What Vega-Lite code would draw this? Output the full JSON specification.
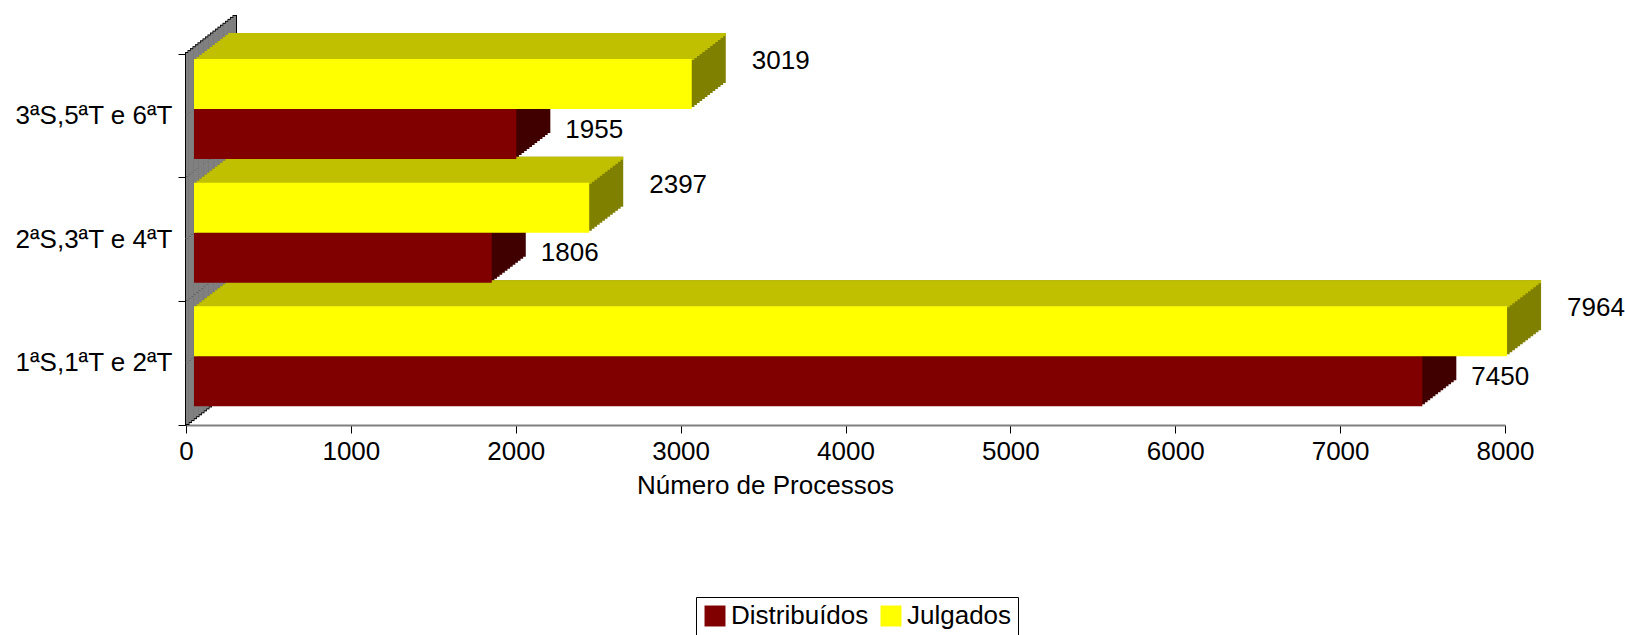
{
  "$schema": "https://vega.github.io/schema/vega-lite/v6.json",
  "autosize": "none",
  "width": 1319,
  "height": 371,
  "padding": {"left": 186, "top": 54, "right": 120, "bottom": 210},
  "background": "white",
  "config": {"view": {"stroke": null}, "font": "Liberation Sans"},
  "data": {"values": [
    {"grupo": "1ªS,1ªT e 2ªT", "serie": "Distribuídos", "valor": 7450},
    {"grupo": "1ªS,1ªT e 2ªT", "serie": "Julgados", "valor": 7964},
    {"grupo": "2ªS,3ªT e 4ªT", "serie": "Distribuídos", "valor": 1806},
    {"grupo": "2ªS,3ªT e 4ªT", "serie": "Julgados", "valor": 2397},
    {"grupo": "3ªS,5ªT e 6ªT", "serie": "Distribuídos", "valor": 1955},
    {"grupo": "3ªS,5ªT e 6ªT", "serie": "Julgados", "valor": 3019}
  ]},
  "encoding": {
    "y": {"field": "grupo", "type": "nominal",
      "scale": {"domain": ["3ªS,5ªT e 6ªT", "2ªS,3ªT e 4ªT", "1ªS,1ªT e 2ªT"], "paddingInner": 0, "paddingOuter": 0},
      "axis": {"title": null, "bandPosition": 1, "tickExtra": true, "domain": false,
        "tickColor": "black", "tickSize": 8, "tickWidth": 1, "labelPadding": 6, "labelFontSize": 26,
        "labelColor": "black", "labelFont": "Liberation Sans", "grid": false}}
  },
  "resolve": {"scale": {"x": "independent", "yOffset": "independent"}},
  "layer": [
    {"mark": {"type": "bar", "color": "black"}, "encoding": {"x": {"datum": 0, "type": "quantitative", "scale": {"domain": [0, 1], "range": [-1, 3.5]}, "axis": null}, "x2": {"datum": 1}, "yOffset": {"field": "serie", "scale": {"domain": ["Julgados", "Distribuídos"], "range": [-1.98, 123.69], "paddingInner": 0, "paddingOuter": 0}}}},
    {"mark": {"type": "bar", "color": "black"}, "encoding": {"x": {"datum": 0, "type": "quantitative", "scale": {"domain": [0, 1], "range": [1.5, 6]}, "axis": null}, "x2": {"datum": 1}, "yOffset": {"field": "serie", "scale": {"domain": ["Julgados", "Distribuídos"], "range": [-3.93, 121.74], "paddingInner": 0, "paddingOuter": 0}}}},
    {"mark": {"type": "bar", "color": "black"}, "encoding": {"x": {"datum": 0, "type": "quantitative", "scale": {"domain": [0, 1], "range": [4, 8.5]}, "axis": null}, "x2": {"datum": 1}, "yOffset": {"field": "serie", "scale": {"domain": ["Julgados", "Distribuídos"], "range": [-5.88, 119.79], "paddingInner": 0, "paddingOuter": 0}}}},
    {"mark": {"type": "bar", "color": "black"}, "encoding": {"x": {"datum": 0, "type": "quantitative", "scale": {"domain": [0, 1], "range": [6.5, 11]}, "axis": null}, "x2": {"datum": 1}, "yOffset": {"field": "serie", "scale": {"domain": ["Julgados", "Distribuídos"], "range": [-7.83, 117.84], "paddingInner": 0, "paddingOuter": 0}}}},
    {"mark": {"type": "bar", "color": "black"}, "encoding": {"x": {"datum": 0, "type": "quantitative", "scale": {"domain": [0, 1], "range": [9, 13.5]}, "axis": null}, "x2": {"datum": 1}, "yOffset": {"field": "serie", "scale": {"domain": ["Julgados", "Distribuídos"], "range": [-9.78, 115.89], "paddingInner": 0, "paddingOuter": 0}}}},
    {"mark": {"type": "bar", "color": "black"}, "encoding": {"x": {"datum": 0, "type": "quantitative", "scale": {"domain": [0, 1], "range": [11.5, 16]}, "axis": null}, "x2": {"datum": 1}, "yOffset": {"field": "serie", "scale": {"domain": ["Julgados", "Distribuídos"], "range": [-11.73, 113.94], "paddingInner": 0, "paddingOuter": 0}}}},
    {"mark": {"type": "bar", "color": "black"}, "encoding": {"x": {"datum": 0, "type": "quantitative", "scale": {"domain": [0, 1], "range": [14, 18.5]}, "axis": null}, "x2": {"datum": 1}, "yOffset": {"field": "serie", "scale": {"domain": ["Julgados", "Distribuídos"], "range": [-13.68, 111.99], "paddingInner": 0, "paddingOuter": 0}}}},
    {"mark": {"type": "bar", "color": "black"}, "encoding": {"x": {"datum": 0, "type": "quantitative", "scale": {"domain": [0, 1], "range": [16.5, 21]}, "axis": null}, "x2": {"datum": 1}, "yOffset": {"field": "serie", "scale": {"domain": ["Julgados", "Distribuídos"], "range": [-15.63, 110.04], "paddingInner": 0, "paddingOuter": 0}}}},
    {"mark": {"type": "bar", "color": "black"}, "encoding": {"x": {"datum": 0, "type": "quantitative", "scale": {"domain": [0, 1], "range": [19, 23.5]}, "axis": null}, "x2": {"datum": 1}, "yOffset": {"field": "serie", "scale": {"domain": ["Julgados", "Distribuídos"], "range": [-17.58, 108.09], "paddingInner": 0, "paddingOuter": 0}}}},
    {"mark": {"type": "bar", "color": "black"}, "encoding": {"x": {"datum": 0, "type": "quantitative", "scale": {"domain": [0, 1], "range": [21.5, 26]}, "axis": null}, "x2": {"datum": 1}, "yOffset": {"field": "serie", "scale": {"domain": ["Julgados", "Distribuídos"], "range": [-19.53, 106.14], "paddingInner": 0, "paddingOuter": 0}}}},
    {"mark": {"type": "bar", "color": "black"}, "encoding": {"x": {"datum": 0, "type": "quantitative", "scale": {"domain": [0, 1], "range": [24, 28.5]}, "axis": null}, "x2": {"datum": 1}, "yOffset": {"field": "serie", "scale": {"domain": ["Julgados", "Distribuídos"], "range": [-21.48, 104.19], "paddingInner": 0, "paddingOuter": 0}}}},
    {"mark": {"type": "bar", "color": "black"}, "encoding": {"x": {"datum": 0, "type": "quantitative", "scale": {"domain": [0, 1], "range": [26.5, 31]}, "axis": null}, "x2": {"datum": 1}, "yOffset": {"field": "serie", "scale": {"domain": ["Julgados", "Distribuídos"], "range": [-23.43, 102.24], "paddingInner": 0, "paddingOuter": 0}}}},
    {"mark": {"type": "bar", "color": "black"}, "encoding": {"x": {"datum": 0, "type": "quantitative", "scale": {"domain": [0, 1], "range": [29, 33.5]}, "axis": null}, "x2": {"datum": 1}, "yOffset": {"field": "serie", "scale": {"domain": ["Julgados", "Distribuídos"], "range": [-25.38, 100.29], "paddingInner": 0, "paddingOuter": 0}}}},
    {"mark": {"type": "bar", "color": "black"}, "encoding": {"x": {"datum": 0, "type": "quantitative", "scale": {"domain": [0, 1], "range": [31.5, 36]}, "axis": null}, "x2": {"datum": 1}, "yOffset": {"field": "serie", "scale": {"domain": ["Julgados", "Distribuídos"], "range": [-27.33, 98.34], "paddingInner": 0, "paddingOuter": 0}}}},
    {"mark": {"type": "bar", "color": "black"}, "encoding": {"x": {"datum": 0, "type": "quantitative", "scale": {"domain": [0, 1], "range": [34, 38.5]}, "axis": null}, "x2": {"datum": 1}, "yOffset": {"field": "serie", "scale": {"domain": ["Julgados", "Distribuídos"], "range": [-29.28, 96.39], "paddingInner": 0, "paddingOuter": 0}}}},
    {"mark": {"type": "bar", "color": "black"}, "encoding": {"x": {"datum": 0, "type": "quantitative", "scale": {"domain": [0, 1], "range": [36.5, 41]}, "axis": null}, "x2": {"datum": 1}, "yOffset": {"field": "serie", "scale": {"domain": ["Julgados", "Distribuídos"], "range": [-31.23, 94.44], "paddingInner": 0, "paddingOuter": 0}}}},
    {"mark": {"type": "bar", "color": "black"}, "encoding": {"x": {"datum": 0, "type": "quantitative", "scale": {"domain": [0, 1], "range": [39, 43.5]}, "axis": null}, "x2": {"datum": 1}, "yOffset": {"field": "serie", "scale": {"domain": ["Julgados", "Distribuídos"], "range": [-33.18, 92.49], "paddingInner": 0, "paddingOuter": 0}}}},
    {"mark": {"type": "bar", "color": "black"}, "encoding": {"x": {"datum": 0, "type": "quantitative", "scale": {"domain": [0, 1], "range": [41.5, 46]}, "axis": null}, "x2": {"datum": 1}, "yOffset": {"field": "serie", "scale": {"domain": ["Julgados", "Distribuídos"], "range": [-35.13, 90.54], "paddingInner": 0, "paddingOuter": 0}}}},
    {"mark": {"type": "bar", "color": "black"}, "encoding": {"x": {"datum": 0, "type": "quantitative", "scale": {"domain": [0, 1], "range": [44, 48.5]}, "axis": null}, "x2": {"datum": 1}, "yOffset": {"field": "serie", "scale": {"domain": ["Julgados", "Distribuídos"], "range": [-37.08, 88.59], "paddingInner": 0, "paddingOuter": 0}}}},
    {"mark": {"type": "bar", "color": "black"}, "encoding": {"x": {"datum": 0, "type": "quantitative", "scale": {"domain": [0, 1], "range": [46.5, 51]}, "axis": null}, "x2": {"datum": 1}, "yOffset": {"field": "serie", "scale": {"domain": ["Julgados", "Distribuídos"], "range": [-39.03, 86.64], "paddingInner": 0, "paddingOuter": 0}}}},

    {"mark": {"type": "bar", "color": "#808080"}, "encoding": {"x": {"datum": 0, "type": "quantitative", "scale": {"domain": [0, 1], "range": [0, 2.8]}, "axis": null}, "x2": {"datum": 1}, "yOffset": {"field": "serie", "scale": {"domain": ["Julgados", "Distribuídos"], "range": [-0.98, 122.69], "paddingInner": 0, "paddingOuter": 0}}}},
    {"mark": {"type": "bar", "color": "#808080"}, "encoding": {"x": {"datum": 0, "type": "quantitative", "scale": {"domain": [0, 1], "range": [2.2, 5.3]}, "axis": null}, "x2": {"datum": 1}, "yOffset": {"field": "serie", "scale": {"domain": ["Julgados", "Distribuídos"], "range": [-2.93, 120.74], "paddingInner": 0, "paddingOuter": 0}}}},
    {"mark": {"type": "bar", "color": "#808080"}, "encoding": {"x": {"datum": 0, "type": "quantitative", "scale": {"domain": [0, 1], "range": [4.7, 7.8]}, "axis": null}, "x2": {"datum": 1}, "yOffset": {"field": "serie", "scale": {"domain": ["Julgados", "Distribuídos"], "range": [-4.88, 118.79], "paddingInner": 0, "paddingOuter": 0}}}},
    {"mark": {"type": "bar", "color": "#808080"}, "encoding": {"x": {"datum": 0, "type": "quantitative", "scale": {"domain": [0, 1], "range": [7.2, 10.3]}, "axis": null}, "x2": {"datum": 1}, "yOffset": {"field": "serie", "scale": {"domain": ["Julgados", "Distribuídos"], "range": [-6.83, 116.84], "paddingInner": 0, "paddingOuter": 0}}}},
    {"mark": {"type": "bar", "color": "#808080"}, "encoding": {"x": {"datum": 0, "type": "quantitative", "scale": {"domain": [0, 1], "range": [9.7, 12.8]}, "axis": null}, "x2": {"datum": 1}, "yOffset": {"field": "serie", "scale": {"domain": ["Julgados", "Distribuídos"], "range": [-8.78, 114.89], "paddingInner": 0, "paddingOuter": 0}}}},
    {"mark": {"type": "bar", "color": "#808080"}, "encoding": {"x": {"datum": 0, "type": "quantitative", "scale": {"domain": [0, 1], "range": [12.2, 15.3]}, "axis": null}, "x2": {"datum": 1}, "yOffset": {"field": "serie", "scale": {"domain": ["Julgados", "Distribuídos"], "range": [-10.73, 112.94], "paddingInner": 0, "paddingOuter": 0}}}},
    {"mark": {"type": "bar", "color": "#808080"}, "encoding": {"x": {"datum": 0, "type": "quantitative", "scale": {"domain": [0, 1], "range": [14.7, 17.8]}, "axis": null}, "x2": {"datum": 1}, "yOffset": {"field": "serie", "scale": {"domain": ["Julgados", "Distribuídos"], "range": [-12.68, 110.99], "paddingInner": 0, "paddingOuter": 0}}}},
    {"mark": {"type": "bar", "color": "#808080"}, "encoding": {"x": {"datum": 0, "type": "quantitative", "scale": {"domain": [0, 1], "range": [17.2, 20.3]}, "axis": null}, "x2": {"datum": 1}, "yOffset": {"field": "serie", "scale": {"domain": ["Julgados", "Distribuídos"], "range": [-14.63, 109.04], "paddingInner": 0, "paddingOuter": 0}}}},
    {"mark": {"type": "bar", "color": "#808080"}, "encoding": {"x": {"datum": 0, "type": "quantitative", "scale": {"domain": [0, 1], "range": [19.7, 22.8]}, "axis": null}, "x2": {"datum": 1}, "yOffset": {"field": "serie", "scale": {"domain": ["Julgados", "Distribuídos"], "range": [-16.58, 107.09], "paddingInner": 0, "paddingOuter": 0}}}},
    {"mark": {"type": "bar", "color": "#808080"}, "encoding": {"x": {"datum": 0, "type": "quantitative", "scale": {"domain": [0, 1], "range": [22.2, 25.3]}, "axis": null}, "x2": {"datum": 1}, "yOffset": {"field": "serie", "scale": {"domain": ["Julgados", "Distribuídos"], "range": [-18.53, 105.14], "paddingInner": 0, "paddingOuter": 0}}}},
    {"mark": {"type": "bar", "color": "#808080"}, "encoding": {"x": {"datum": 0, "type": "quantitative", "scale": {"domain": [0, 1], "range": [24.7, 27.8]}, "axis": null}, "x2": {"datum": 1}, "yOffset": {"field": "serie", "scale": {"domain": ["Julgados", "Distribuídos"], "range": [-20.48, 103.19], "paddingInner": 0, "paddingOuter": 0}}}},
    {"mark": {"type": "bar", "color": "#808080"}, "encoding": {"x": {"datum": 0, "type": "quantitative", "scale": {"domain": [0, 1], "range": [27.2, 30.3]}, "axis": null}, "x2": {"datum": 1}, "yOffset": {"field": "serie", "scale": {"domain": ["Julgados", "Distribuídos"], "range": [-22.43, 101.24], "paddingInner": 0, "paddingOuter": 0}}}},
    {"mark": {"type": "bar", "color": "#808080"}, "encoding": {"x": {"datum": 0, "type": "quantitative", "scale": {"domain": [0, 1], "range": [29.7, 32.8]}, "axis": null}, "x2": {"datum": 1}, "yOffset": {"field": "serie", "scale": {"domain": ["Julgados", "Distribuídos"], "range": [-24.38, 99.29], "paddingInner": 0, "paddingOuter": 0}}}},
    {"mark": {"type": "bar", "color": "#808080"}, "encoding": {"x": {"datum": 0, "type": "quantitative", "scale": {"domain": [0, 1], "range": [32.2, 35.3]}, "axis": null}, "x2": {"datum": 1}, "yOffset": {"field": "serie", "scale": {"domain": ["Julgados", "Distribuídos"], "range": [-26.33, 97.34], "paddingInner": 0, "paddingOuter": 0}}}},
    {"mark": {"type": "bar", "color": "#808080"}, "encoding": {"x": {"datum": 0, "type": "quantitative", "scale": {"domain": [0, 1], "range": [34.7, 37.8]}, "axis": null}, "x2": {"datum": 1}, "yOffset": {"field": "serie", "scale": {"domain": ["Julgados", "Distribuídos"], "range": [-28.28, 95.39], "paddingInner": 0, "paddingOuter": 0}}}},
    {"mark": {"type": "bar", "color": "#808080"}, "encoding": {"x": {"datum": 0, "type": "quantitative", "scale": {"domain": [0, 1], "range": [37.2, 40.3]}, "axis": null}, "x2": {"datum": 1}, "yOffset": {"field": "serie", "scale": {"domain": ["Julgados", "Distribuídos"], "range": [-30.23, 93.44], "paddingInner": 0, "paddingOuter": 0}}}},
    {"mark": {"type": "bar", "color": "#808080"}, "encoding": {"x": {"datum": 0, "type": "quantitative", "scale": {"domain": [0, 1], "range": [39.7, 42.8]}, "axis": null}, "x2": {"datum": 1}, "yOffset": {"field": "serie", "scale": {"domain": ["Julgados", "Distribuídos"], "range": [-32.18, 91.49], "paddingInner": 0, "paddingOuter": 0}}}},
    {"mark": {"type": "bar", "color": "#808080"}, "encoding": {"x": {"datum": 0, "type": "quantitative", "scale": {"domain": [0, 1], "range": [42.2, 45.3]}, "axis": null}, "x2": {"datum": 1}, "yOffset": {"field": "serie", "scale": {"domain": ["Julgados", "Distribuídos"], "range": [-34.13, 89.54], "paddingInner": 0, "paddingOuter": 0}}}},
    {"mark": {"type": "bar", "color": "#808080"}, "encoding": {"x": {"datum": 0, "type": "quantitative", "scale": {"domain": [0, 1], "range": [44.7, 47.8]}, "axis": null}, "x2": {"datum": 1}, "yOffset": {"field": "serie", "scale": {"domain": ["Julgados", "Distribuídos"], "range": [-36.08, 87.59], "paddingInner": 0, "paddingOuter": 0}}}},
    {"mark": {"type": "bar", "color": "#808080"}, "encoding": {"x": {"datum": 0, "type": "quantitative", "scale": {"domain": [0, 1], "range": [47.2, 50]}, "axis": null}, "x2": {"datum": 1}, "yOffset": {"field": "serie", "scale": {"domain": ["Julgados", "Distribuídos"], "range": [-38.03, 85.64], "paddingInner": 0, "paddingOuter": 0}}}},

    {"mark": "bar", "encoding": {"x": {"field": "valor", "type": "quantitative", "stack": null, "scale": {"domain": [0, 8000], "nice": false, "range": [42, 1361]}, "axis": null}, "yOffset": {"field": "serie", "scale": {"domain": ["Julgados", "Distribuídos"], "range": [-21, 79], "paddingInner": 0, "paddingOuter": 0}}, "color": {"condition": {"test": "datum.serie === 'Julgados'", "value": "#808000"}, "value": "#400000"}}},
    {"mark": "bar", "encoding": {"x": {"field": "valor", "type": "quantitative", "stack": null, "scale": {"domain": [0, 8000], "nice": false, "range": [39.38, 1358.38]}, "axis": null}, "yOffset": {"field": "serie", "scale": {"domain": ["Julgados", "Distribuídos"], "range": [-19, 81], "paddingInner": 0, "paddingOuter": 0}}, "color": {"condition": {"test": "datum.serie === 'Julgados'", "value": "#808000"}, "value": "#400000"}}},
    {"mark": "bar", "encoding": {"x": {"field": "valor", "type": "quantitative", "stack": null, "scale": {"domain": [0, 8000], "nice": false, "range": [36.77, 1355.77]}, "axis": null}, "yOffset": {"field": "serie", "scale": {"domain": ["Julgados", "Distribuídos"], "range": [-17, 83], "paddingInner": 0, "paddingOuter": 0}}, "color": {"condition": {"test": "datum.serie === 'Julgados'", "value": "#808000"}, "value": "#400000"}}},
    {"mark": "bar", "encoding": {"x": {"field": "valor", "type": "quantitative", "stack": null, "scale": {"domain": [0, 8000], "nice": false, "range": [34.15, 1353.15]}, "axis": null}, "yOffset": {"field": "serie", "scale": {"domain": ["Julgados", "Distribuídos"], "range": [-15, 85], "paddingInner": 0, "paddingOuter": 0}}, "color": {"condition": {"test": "datum.serie === 'Julgados'", "value": "#808000"}, "value": "#400000"}}},
    {"mark": "bar", "encoding": {"x": {"field": "valor", "type": "quantitative", "stack": null, "scale": {"domain": [0, 8000], "nice": false, "range": [31.54, 1350.54]}, "axis": null}, "yOffset": {"field": "serie", "scale": {"domain": ["Julgados", "Distribuídos"], "range": [-13, 87], "paddingInner": 0, "paddingOuter": 0}}, "color": {"condition": {"test": "datum.serie === 'Julgados'", "value": "#808000"}, "value": "#400000"}}},
    {"mark": "bar", "encoding": {"x": {"field": "valor", "type": "quantitative", "stack": null, "scale": {"domain": [0, 8000], "nice": false, "range": [28.92, 1347.92]}, "axis": null}, "yOffset": {"field": "serie", "scale": {"domain": ["Julgados", "Distribuídos"], "range": [-11, 89], "paddingInner": 0, "paddingOuter": 0}}, "color": {"condition": {"test": "datum.serie === 'Julgados'", "value": "#808000"}, "value": "#400000"}}},
    {"mark": "bar", "encoding": {"x": {"field": "valor", "type": "quantitative", "stack": null, "scale": {"domain": [0, 8000], "nice": false, "range": [26.31, 1345.31]}, "axis": null}, "yOffset": {"field": "serie", "scale": {"domain": ["Julgados", "Distribuídos"], "range": [-9, 91], "paddingInner": 0, "paddingOuter": 0}}, "color": {"condition": {"test": "datum.serie === 'Julgados'", "value": "#808000"}, "value": "#400000"}}},
    {"mark": "bar", "encoding": {"x": {"field": "valor", "type": "quantitative", "stack": null, "scale": {"domain": [0, 8000], "nice": false, "range": [23.69, 1342.69]}, "axis": null}, "yOffset": {"field": "serie", "scale": {"domain": ["Julgados", "Distribuídos"], "range": [-7, 93], "paddingInner": 0, "paddingOuter": 0}}, "color": {"condition": {"test": "datum.serie === 'Julgados'", "value": "#808000"}, "value": "#400000"}}},
    {"mark": "bar", "encoding": {"x": {"field": "valor", "type": "quantitative", "stack": null, "scale": {"domain": [0, 8000], "nice": false, "range": [21.08, 1340.08]}, "axis": null}, "yOffset": {"field": "serie", "scale": {"domain": ["Julgados", "Distribuídos"], "range": [-5, 95], "paddingInner": 0, "paddingOuter": 0}}, "color": {"condition": {"test": "datum.serie === 'Julgados'", "value": "#808000"}, "value": "#400000"}}},
    {"mark": "bar", "encoding": {"x": {"field": "valor", "type": "quantitative", "stack": null, "scale": {"domain": [0, 8000], "nice": false, "range": [18.46, 1337.46]}, "axis": null}, "yOffset": {"field": "serie", "scale": {"domain": ["Julgados", "Distribuídos"], "range": [-3, 97], "paddingInner": 0, "paddingOuter": 0}}, "color": {"condition": {"test": "datum.serie === 'Julgados'", "value": "#808000"}, "value": "#400000"}}},
    {"mark": "bar", "encoding": {"x": {"field": "valor", "type": "quantitative", "stack": null, "scale": {"domain": [0, 8000], "nice": false, "range": [15.85, 1334.85]}, "axis": null}, "yOffset": {"field": "serie", "scale": {"domain": ["Julgados", "Distribuídos"], "range": [-1, 99], "paddingInner": 0, "paddingOuter": 0}}, "color": {"condition": {"test": "datum.serie === 'Julgados'", "value": "#808000"}, "value": "#400000"}}},
    {"mark": "bar", "encoding": {"x": {"field": "valor", "type": "quantitative", "stack": null, "scale": {"domain": [0, 8000], "nice": false, "range": [13.23, 1332.23]}, "axis": null}, "yOffset": {"field": "serie", "scale": {"domain": ["Julgados", "Distribuídos"], "range": [1, 101], "paddingInner": 0, "paddingOuter": 0}}, "color": {"condition": {"test": "datum.serie === 'Julgados'", "value": "#808000"}, "value": "#400000"}}},
    {"mark": "bar", "encoding": {"x": {"field": "valor", "type": "quantitative", "stack": null, "scale": {"domain": [0, 8000], "nice": false, "range": [10.62, 1329.62]}, "axis": null}, "yOffset": {"field": "serie", "scale": {"domain": ["Julgados", "Distribuídos"], "range": [3, 103], "paddingInner": 0, "paddingOuter": 0}}, "color": {"condition": {"test": "datum.serie === 'Julgados'", "value": "#808000"}, "value": "#400000"}}},

    {"transform": [{"filter": "datum.serie === 'Julgados'"}], "mark": {"type": "bar", "color": "#C0C000"}, "encoding": {"x": {"field": "valor", "type": "quantitative", "stack": null, "scale": {"domain": [0, 8000], "nice": false, "range": [42, 1361]}, "axis": null}, "yOffset": {"field": "serie", "scale": {"domain": ["Julgados", "Distribuídos"], "range": [-21, -15], "paddingInner": 0, "paddingOuter": 0}}}},
    {"transform": [{"filter": "datum.serie === 'Julgados'"}], "mark": {"type": "bar", "color": "#C0C000"}, "encoding": {"x": {"field": "valor", "type": "quantitative", "stack": null, "scale": {"domain": [0, 8000], "nice": false, "range": [39.38, 1358.38]}, "axis": null}, "yOffset": {"field": "serie", "scale": {"domain": ["Julgados", "Distribuídos"], "range": [-19, -13], "paddingInner": 0, "paddingOuter": 0}}}},
    {"transform": [{"filter": "datum.serie === 'Julgados'"}], "mark": {"type": "bar", "color": "#C0C000"}, "encoding": {"x": {"field": "valor", "type": "quantitative", "stack": null, "scale": {"domain": [0, 8000], "nice": false, "range": [36.77, 1355.77]}, "axis": null}, "yOffset": {"field": "serie", "scale": {"domain": ["Julgados", "Distribuídos"], "range": [-17, -11], "paddingInner": 0, "paddingOuter": 0}}}},
    {"transform": [{"filter": "datum.serie === 'Julgados'"}], "mark": {"type": "bar", "color": "#C0C000"}, "encoding": {"x": {"field": "valor", "type": "quantitative", "stack": null, "scale": {"domain": [0, 8000], "nice": false, "range": [34.15, 1353.15]}, "axis": null}, "yOffset": {"field": "serie", "scale": {"domain": ["Julgados", "Distribuídos"], "range": [-15, -9], "paddingInner": 0, "paddingOuter": 0}}}},
    {"transform": [{"filter": "datum.serie === 'Julgados'"}], "mark": {"type": "bar", "color": "#C0C000"}, "encoding": {"x": {"field": "valor", "type": "quantitative", "stack": null, "scale": {"domain": [0, 8000], "nice": false, "range": [31.54, 1350.54]}, "axis": null}, "yOffset": {"field": "serie", "scale": {"domain": ["Julgados", "Distribuídos"], "range": [-13, -7], "paddingInner": 0, "paddingOuter": 0}}}},
    {"transform": [{"filter": "datum.serie === 'Julgados'"}], "mark": {"type": "bar", "color": "#C0C000"}, "encoding": {"x": {"field": "valor", "type": "quantitative", "stack": null, "scale": {"domain": [0, 8000], "nice": false, "range": [28.92, 1347.92]}, "axis": null}, "yOffset": {"field": "serie", "scale": {"domain": ["Julgados", "Distribuídos"], "range": [-11, -5], "paddingInner": 0, "paddingOuter": 0}}}},
    {"transform": [{"filter": "datum.serie === 'Julgados'"}], "mark": {"type": "bar", "color": "#C0C000"}, "encoding": {"x": {"field": "valor", "type": "quantitative", "stack": null, "scale": {"domain": [0, 8000], "nice": false, "range": [26.31, 1345.31]}, "axis": null}, "yOffset": {"field": "serie", "scale": {"domain": ["Julgados", "Distribuídos"], "range": [-9, -3], "paddingInner": 0, "paddingOuter": 0}}}},
    {"transform": [{"filter": "datum.serie === 'Julgados'"}], "mark": {"type": "bar", "color": "#C0C000"}, "encoding": {"x": {"field": "valor", "type": "quantitative", "stack": null, "scale": {"domain": [0, 8000], "nice": false, "range": [23.69, 1342.69]}, "axis": null}, "yOffset": {"field": "serie", "scale": {"domain": ["Julgados", "Distribuídos"], "range": [-7, -1], "paddingInner": 0, "paddingOuter": 0}}}},
    {"transform": [{"filter": "datum.serie === 'Julgados'"}], "mark": {"type": "bar", "color": "#C0C000"}, "encoding": {"x": {"field": "valor", "type": "quantitative", "stack": null, "scale": {"domain": [0, 8000], "nice": false, "range": [21.08, 1340.08]}, "axis": null}, "yOffset": {"field": "serie", "scale": {"domain": ["Julgados", "Distribuídos"], "range": [-5, 1], "paddingInner": 0, "paddingOuter": 0}}}},
    {"transform": [{"filter": "datum.serie === 'Julgados'"}], "mark": {"type": "bar", "color": "#C0C000"}, "encoding": {"x": {"field": "valor", "type": "quantitative", "stack": null, "scale": {"domain": [0, 8000], "nice": false, "range": [18.46, 1337.46]}, "axis": null}, "yOffset": {"field": "serie", "scale": {"domain": ["Julgados", "Distribuídos"], "range": [-3, 3], "paddingInner": 0, "paddingOuter": 0}}}},
    {"transform": [{"filter": "datum.serie === 'Julgados'"}], "mark": {"type": "bar", "color": "#C0C000"}, "encoding": {"x": {"field": "valor", "type": "quantitative", "stack": null, "scale": {"domain": [0, 8000], "nice": false, "range": [15.85, 1334.85]}, "axis": null}, "yOffset": {"field": "serie", "scale": {"domain": ["Julgados", "Distribuídos"], "range": [-1, 5], "paddingInner": 0, "paddingOuter": 0}}}},
    {"transform": [{"filter": "datum.serie === 'Julgados'"}], "mark": {"type": "bar", "color": "#C0C000"}, "encoding": {"x": {"field": "valor", "type": "quantitative", "stack": null, "scale": {"domain": [0, 8000], "nice": false, "range": [13.23, 1332.23]}, "axis": null}, "yOffset": {"field": "serie", "scale": {"domain": ["Julgados", "Distribuídos"], "range": [1, 7], "paddingInner": 0, "paddingOuter": 0}}}},
    {"transform": [{"filter": "datum.serie === 'Julgados'"}], "mark": {"type": "bar", "color": "#C0C000"}, "encoding": {"x": {"field": "valor", "type": "quantitative", "stack": null, "scale": {"domain": [0, 8000], "nice": false, "range": [10.62, 1329.62]}, "axis": null}, "yOffset": {"field": "serie", "scale": {"domain": ["Julgados", "Distribuídos"], "range": [3, 9], "paddingInner": 0, "paddingOuter": 0}}}},

    {"mark": "bar",
      "encoding": {
        "x": {"field": "valor", "type": "quantitative", "stack": null, "scale": {"domain": [0, 8000], "nice": false, "range": [8, 1327]}, "axis": null},
        "yOffset": {"field": "serie", "scale": {"domain": ["Julgados", "Distribuídos"], "range": [5, 105], "paddingInner": 0, "paddingOuter": 0}},
        "color": {"field": "serie", "type": "nominal",
          "scale": {"domain": ["Distribuídos", "Julgados"], "range": ["#800000", "#FFFF00"]},
          "legend": {"orient": "none", "legendX": 510, "legendY": 543, "direction": "horizontal", "title": null,
            "symbolType": "square", "symbolSize": 440, "symbolStrokeWidth": 0, "labelFontSize": 26, "labelFont": "Liberation Sans",
            "labelColor": "black", "labelOffset": 3, "columnPadding": 9, "padding": 6, "strokeColor": "black", "fillColor": "white"}}}},
    {"transform": [{"filter": "datum.serie === 'Julgados'"}],
      "mark": {"type": "text", "align": "left", "baseline": "middle", "dx": 68, "dy": -23, "fontSize": 26, "font": "Liberation Sans", "color": "black"},
      "encoding": {"text": {"field": "valor", "type": "quantitative", "format": "d"},
        "x": {"field": "valor", "type": "quantitative", "stack": null, "scale": {"domain": [0, 8000], "nice": false},
          "axis": {"title": "Número de Processos", "values": [0,1000,2000,3000,4000,5000,6000,7000,8000], "format": "d", "grid": false,
            "domainColor": "#808080", "domainWidth": 2, "tickColor": "black", "tickSize": 8, "tickWidth": 1,
            "labelFontSize": 26, "labelPadding": 5, "labelColor": "black", "labelFlush": false, "labelFont": "Liberation Sans",
            "titleFontSize": 26, "titleFontWeight": "normal", "titleColor": "black", "titleFont": "Liberation Sans",
            "titleX": 579, "titleY": 68, "titleBaseline": "alphabetic", "titleAnchor": "start", "titleAlign": "center"}},
        "yOffset": {"field": "serie", "scale": {"type": "point", "domain": ["Julgados", "Distribuídos"], "range": [30, 80], "padding": 0}}}},
    {"transform": [{"filter": "datum.serie === 'Distribuídos'"}],
      "mark": {"type": "text", "align": "left", "baseline": "middle", "dx": 57, "dy": -4.5, "fontSize": 26, "font": "Liberation Sans", "color": "black"},
      "encoding": {"text": {"field": "valor", "type": "quantitative", "format": "d"},
        "x": {"field": "valor", "type": "quantitative", "stack": null, "scale": {"domain": [0, 8000], "nice": false}, "axis": null},
        "yOffset": {"field": "serie", "scale": {"type": "point", "domain": ["Julgados", "Distribuídos"], "range": [30, 80], "padding": 0}}}}
  ]
}
